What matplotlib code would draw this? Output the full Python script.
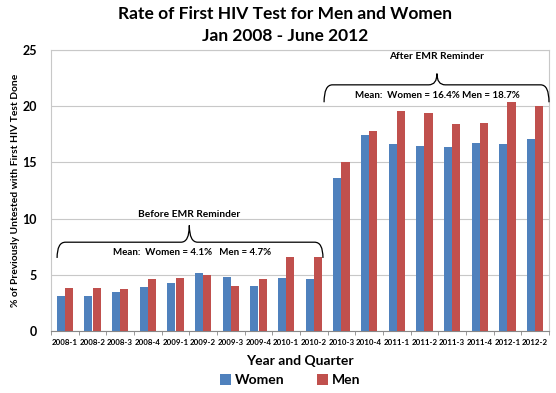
import numpy as np
import matplotlib
matplotlib.use("Agg")
import matplotlib.pyplot as plt
from matplotlib.path import Path
from matplotlib.patches import PathPatch

plt.rcParams['font.family'] = ['Lato', 'DejaVu Sans']
plt.rcParams['font.weight'] = 'bold'

quarters = ['2008-1', '2008-2', '2008-3', '2008-4', '2009-1', '2009-2', '2009-3', '2009-4',
            '2010-1', '2010-2', '2010-3', '2010-4', '2011-1', '2011-2', '2011-3', '2011-4',
            '2012-1', '2012-2']
women = [3.1, 3.1, 3.5, 3.9, 4.3, 5.2, 4.8, 4.0, 4.7, 4.6,
         13.6, 17.4, 16.6, 16.5, 16.4, 16.7, 16.6, 17.1]
men = [3.8, 3.8, 3.7, 4.6, 4.7, 5.0, 4.0, 4.6, 6.6, 6.6,
       15.0, 17.8, 19.6, 19.4, 18.4, 18.5, 20.4, 20.0]

blue = '#4F81BD'
red = '#C0504D'

fig = plt.figure(figsize=(5.56, 3.93), dpi=100)
ax = fig.add_axes([51/556, 1 - 331/393, 498/556, 281/393])

x = np.arange(len(quarters))
w = 0.3
ax.bar(x - w/2, women, w, color=blue, label='Women', zorder=3)
ax.bar(x + w/2, men, w, color=red, label='Men', zorder=3)

ax.set_xlim(-0.5, len(quarters) - 0.5)
ax.set_ylim(0, 25)
ax.set_yticks([0, 5, 10, 15, 20, 25])
ax.set_xticks(x)
ax.set_xticklabels(quarters, fontsize=5.7, fontweight='bold')
ax.set_xticks(np.arange(-0.5, len(quarters)), minor=True)
ax.tick_params(axis='x', which='major', length=0, pad=6)
ax.tick_params(axis='x', which='minor', length=3, color='#888888')
ax.tick_params(axis='y', length=0, labelsize=9, pad=10)
for lab in ax.get_yticklabels():
    lab.set_fontweight('bold')
ax.grid(axis='y', color='#c8c8c8', linewidth=0.8, zorder=0)
for s in ax.spines.values():
    s.set_color('#c8c8c8')
    s.set_linewidth(0.8)
ax.spines['bottom'].set_color('#888888')

ax.set_ylabel('% of Previously Untested with First HIV Test Done', fontsize=7.4,
              fontweight='bold', labelpad=2)
ax.set_xlabel('Year and Quarter', fontsize=10, fontweight='bold', labelpad=6)

fig.text(285/556, 1 - 14/393, 'Rate of First HIV Test for Men and Women',
         ha='center', va='center', fontsize=12.5, fontweight='bold')
fig.text(285/556, 1 - 36/393, 'Jan 2008 - June 2012',
         ha='center', va='center', fontsize=12.5, fontweight='bold')


def brace(x0, x1, xp, yend, yh, ypeak, r=0.3):
    verts = [(x0, yend), (x0, yh), (x0 + r, yh),
             (xp - r, yh), (xp, yh), (xp, ypeak),
             (xp, yh), (xp + r, yh),
             (x1 - r, yh), (x1, yh), (x1, yend)]
    codes = [Path.MOVETO, Path.CURVE3, Path.CURVE3,
             Path.LINETO, Path.CURVE3, Path.CURVE3,
             Path.CURVE3, Path.CURVE3,
             Path.LINETO, Path.CURVE3, Path.CURVE3]
    ax.add_patch(PathPatch(Path(verts, codes), fill=False, lw=0.9,
                           color='black', zorder=4, clip_on=False))


brace(-0.28, 9.33, 4.5, 6.5, 7.9, 9.4)
ax.text(4.5, 10.4, 'Before EMR Reminder', ha='center', va='center', fontsize=7.3)
ax.text(4.6, 7.0, 'Mean:  Women = 4.1%   Men = 4.7%', ha='center', va='center', fontsize=7)

brace(9.37, 17.5, 13.45, 20.35, 21.9, 22.9)
ax.text(13.45, 24.4, 'After EMR Reminder', ha='center', va='center', fontsize=7.3)
ax.text(13.45, 20.95, 'Mean:  Women = 16.4% Men = 18.7%', ha='center', va='center', fontsize=7)

fig.legend(loc='center', bbox_to_anchor=(290/556, 1 - 380/393), ncol=2, frameon=False,
           fontsize=10, handlelength=0.8, handleheight=0.8, columnspacing=2.3,
           handletextpad=0.3)

fig.savefig('out.png', dpi=100)
